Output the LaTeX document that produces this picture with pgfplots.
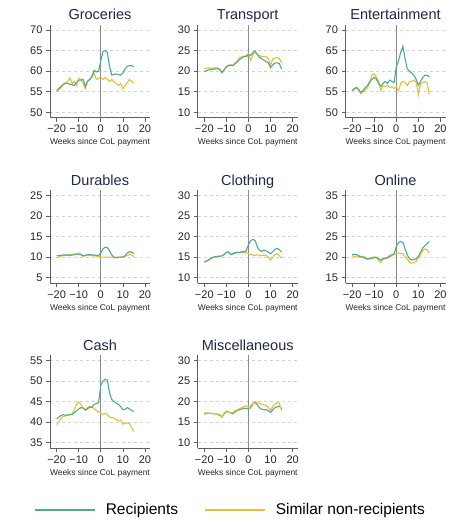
\documentclass[border=0pt]{standalone}
\usepackage{fontspec}
\setmainfont{Liberation Sans}
\usepackage{pgfplots}
\pgfplotsset{compat=1.18}

\definecolor{recip}{RGB}{78,172,140}
\definecolor{nonrec}{RGB}{232,190,58}
\definecolor{titlecol}{RGB}{30,40,75}
\definecolor{spine}{RGB}{95,95,95}

\pgfplotsset{
  panel/.style={
    scale only axis, width=100pt, height=93pt,
    anchor=north west,
    axis lines=left, axis line style={-, draw=spine, line width=0.7pt},
    xmin=-23, xmax=22.3,
    xtick={-20,-10,0,10,20},
    xticklabels={−20,−10,0,10,20},
    tick align=outside, major tick length=4pt,
    tick style={spine, line width=0.6pt},
    ymajorgrids, grid style={dash pattern=on 3pt off 3pt, gray!35, line width=0.6pt},
    extra x ticks={0}, extra x tick labels={},
    extra x tick style={grid=major, major tick length=0pt,
      major grid style={solid, gray!90, line width=0.8pt}},
    ticklabel style={font=\fontsize{11}{13}\selectfont, text=black!85},
    /pgf/number format/assume math mode=true,
    xlabel={Weeks since CoL payment},
    xlabel style={font=\fontsize{8.4}{10}\selectfont, text=black!85,
      at={(axis description cs:0.5,0)}, anchor=base, yshift=-27pt},
    title style={font=\fontsize{14.5}{16}\selectfont, text=titlecol,
      at={(axis description cs:0.5,1)}, anchor=base, yshift=-1pt},
  },
  rec/.style={recip, line width=1.1pt},
  non/.style={nonrec, line width=1.1pt},
}

\begin{document}
\begin{tikzpicture}
\useasboundingbox (0pt,0pt) rectangle (467pt,-529pt);

% ---- row 1 ----
\begin{axis}[panel, at={(50pt,-24.6pt)}, title={Groceries},
  ymin=48.7, ymax=71.3, ytick={50,55,...,70}]
\addplot[non] coordinates {(-20,55.0) (-19,55.5) (-18,56.0) (-17,56.7) (-16,57.2) (-15,57.5) (-14,58.3) (-13,57.0) (-12,57.5) (-11,56.5) (-10,58.2) (-9,58.0) (-8,57.0) (-7,55.7) (-6,57.5) (-5,58.0) (-4,58.5) (-3,59.5) (-2,58.0) (-1,58.3) (0,58.5) (1,58.0) (2,58.5) (3,58.0) (4,57.5) (5,58.0) (6,57.3) (7,57.0) (8,56.5) (9,57.0) (10,55.7) (11,56.5) (12,57.2) (13,58.0) (14,57.5) (15,57.0)};
\addplot[rec] coordinates {(-20,55.3) (-19,55.8) (-18,56.3) (-17,56.8) (-16,57.0) (-15,57.0) (-14,56.8) (-13,56.7) (-12,56.5) (-11,57.2) (-10,57.8) (-9,57.8) (-8,58.0) (-7,56.3) (-6,57.5) (-5,58.0) (-4,58.8) (-3,60.2) (-2,59.8) (-1,60.0) (0,62.5) (1,64.8) (2,65.0) (3,64.5) (4,61.0) (5,59.0) (6,59.2) (7,59.3) (8,59.2) (9,59.0) (10,59.5) (11,60.5) (12,61.2) (13,61.3) (14,61.3) (15,61.1)};
\end{axis}

\begin{axis}[panel, at={(197.7pt,-24.6pt)}, title={Transport},
  ymin=8.7, ymax=31.3, ytick={10,15,...,30}]
\addplot[non] coordinates {(-20,20.5) (-19,20.7) (-18,20.8) (-17,20.7) (-16,20.7) (-15,20.8) (-14,20.8) (-13,20.5) (-12,19.5) (-11,20.5) (-10,21.2) (-9,21.5) (-8,21.3) (-7,21.5) (-6,22.0) (-5,22.5) (-4,23.3) (-3,23.5) (-2,23.6) (-1,23.8) (0,24.3) (1,22.6) (2,24.0) (3,24.5) (4,24.0) (5,23.8) (6,23.5) (7,23.5) (8,23.5) (9,23.0) (10,21.3) (11,23.0) (12,23.2) (13,23.3) (14,23.0) (15,22.0)};
\addplot[rec] coordinates {(-20,19.9) (-19,20.1) (-18,20.3) (-17,20.4) (-16,20.5) (-15,20.5) (-14,20.6) (-13,20.3) (-12,19.7) (-11,20.3) (-10,21.0) (-9,21.3) (-8,21.5) (-7,21.3) (-6,21.8) (-5,22.3) (-4,22.8) (-3,23.2) (-2,23.5) (-1,23.5) (0,24.0) (1,23.8) (2,24.5) (3,24.9) (4,24.0) (5,23.3) (6,23.0) (7,22.7) (8,22.3) (9,22.0) (10,20.8) (11,21.5) (12,22.0) (13,22.0) (14,21.8) (15,20.5)};
\end{axis}

\begin{axis}[panel, at={(345.5pt,-24.6pt)}, title={Entertainment},
  ymin=48.7, ymax=71.3, ytick={50,55,...,70}]
\addplot[non] coordinates {(-20,55.5) (-19,55.5) (-18,56.0) (-17,55.3) (-16,54.5) (-15,55.0) (-14,55.5) (-13,56.0) (-12,57.2) (-11,59.0) (-10,59.3) (-9,58.5) (-8,57.5) (-7,55.3) (-6,56.5) (-5,56.3) (-4,56.5) (-3,56.0) (-2,56.2) (-1,55.8) (0,56.2) (1,55.2) (2,57.0) (3,57.5) (4,57.3) (5,56.5) (6,57.5) (7,57.5) (8,57.8) (9,57.3) (10,54.3) (11,57.0) (12,57.2) (13,57.5) (14,57.0) (15,54.3)};
\addplot[rec] coordinates {(-20,55.2) (-19,55.8) (-18,56.0) (-17,55.5) (-16,54.8) (-15,55.3) (-14,56.0) (-13,56.5) (-12,57.5) (-11,58.0) (-10,58.5) (-9,58.0) (-8,57.0) (-7,56.3) (-6,57.0) (-5,57.5) (-4,57.0) (-3,57.8) (-2,57.5) (-1,57.2) (0,61.0) (1,62.5) (2,64.5) (3,66.0) (4,63.0) (5,60.5) (6,60.0) (7,59.5) (8,59.0) (9,58.0) (10,56.5) (11,57.5) (12,58.5) (13,59.0) (14,59.0) (15,58.5)};
\end{axis}

% ---- row 2 ----
\begin{axis}[panel, at={(50pt,-190pt)}, title={Durables},
  ymin=3.7, ymax=26.3, ytick={5,10,...,25}]
\addplot[non] coordinates {(-20,9.9) (-19,10.0) (-18,10.2) (-17,10.3) (-16,10.4) (-15,10.5) (-14,10.6) (-13,10.6) (-12,10.7) (-11,10.8) (-10,11.0) (-9,10.7) (-8,10.2) (-7,10.3) (-6,10.5) (-5,10.4) (-4,10.3) (-3,10.3) (-2,10.2) (-1,10.1) (0,10.0) (1,10.0) (2,10.0) (3,10.0) (4,10.0) (5,9.9) (6,9.8) (7,9.8) (8,9.9) (9,10.0) (10,10.1) (11,10.2) (12,10.4) (13,10.6) (14,10.5) (15,10.1)};
\addplot[rec] coordinates {(-20,10.3) (-19,10.4) (-18,10.4) (-17,10.5) (-16,10.5) (-15,10.5) (-14,10.4) (-13,10.5) (-12,10.6) (-11,10.7) (-10,10.7) (-9,10.6) (-8,10.3) (-7,10.4) (-6,10.6) (-5,10.6) (-4,10.5) (-3,10.5) (-2,10.4) (-1,10.4) (0,11.0) (1,12.0) (2,12.4) (3,12.3) (4,11.5) (5,10.5) (6,10.0) (7,9.9) (8,10.0) (9,10.0) (10,10.0) (11,10.3) (12,11.0) (13,11.3) (14,11.2) (15,10.9)};
\end{axis}

\begin{axis}[panel, at={(197.7pt,-190pt)}, title={Clothing},
  ymin=8.7, ymax=31.3, ytick={10,15,...,30}]
\addplot[non] coordinates {(-20,13.7) (-19,14.0) (-18,14.2) (-17,14.6) (-16,14.9) (-15,15.0) (-14,15.1) (-13,15.2) (-12,15.3) (-11,15.7) (-10,16.2) (-9,16.3) (-8,15.6) (-7,15.6) (-6,16.0) (-5,16.0) (-4,16.1) (-3,16.2) (-2,16.1) (-1,16.1) (0,15.8) (1,15.6) (2,15.5) (3,15.4) (4,15.6) (5,15.4) (6,15.3) (7,15.5) (8,15.4) (9,15.0) (10,14.3) (11,15.0) (12,15.6) (13,15.9) (14,15.4) (15,14.7)};
\addplot[rec] coordinates {(-20,13.8) (-19,14.1) (-18,14.4) (-17,14.7) (-16,15.0) (-15,15.1) (-14,15.2) (-13,15.2) (-12,15.3) (-11,15.6) (-10,16.1) (-9,16.2) (-8,15.6) (-7,15.9) (-6,16.1) (-5,16.2) (-4,16.1) (-3,16.3) (-2,16.3) (-1,16.6) (0,18.0) (1,19.0) (2,19.3) (3,19.0) (4,17.5) (5,16.6) (6,16.4) (7,16.7) (8,16.5) (9,16.2) (10,15.8) (11,16.3) (12,16.9) (13,17.1) (14,16.8) (15,16.2)};
\end{axis}

\begin{axis}[panel, at={(345.5pt,-190pt)}, title={Online},
  ymin=13.7, ymax=36.3, ytick={15,20,...,35}]
\addplot[non] coordinates {(-20,20.3) (-19,20.2) (-18,20.0) (-17,20.1) (-16,20.2) (-15,20.1) (-14,20.0) (-13,19.5) (-12,19.8) (-11,19.9) (-10,20.1) (-9,19.9) (-8,19.2) (-7,18.7) (-6,19.5) (-5,19.6) (-4,19.7) (-3,20.1) (-2,20.3) (-1,20.6) (0,20.8) (1,21.0) (2,20.9) (3,20.8) (4,20.0) (5,19.5) (6,18.7) (7,18.5) (8,18.7) (9,19.0) (10,19.8) (11,20.5) (12,21.5) (13,22.0) (14,21.8) (15,21.0)};
\addplot[rec] coordinates {(-20,20.6) (-19,20.7) (-18,20.6) (-17,20.3) (-16,20.1) (-15,19.9) (-14,19.7) (-13,19.5) (-12,19.6) (-11,19.7) (-10,19.8) (-9,19.9) (-8,19.6) (-7,19.3) (-6,19.6) (-5,19.7) (-4,19.9) (-3,20.3) (-2,20.6) (-1,20.8) (0,22.5) (1,23.5) (2,23.8) (3,23.5) (4,22.0) (5,20.5) (6,19.6) (7,19.3) (8,19.4) (9,19.6) (10,20.2) (11,21.2) (12,22.2) (13,22.8) (14,23.3) (15,23.8)};
\end{axis}

% ---- row 3 ----
\begin{axis}[panel, at={(50pt,-355pt)}, title={Cash},
  ymin=33.7, ymax=56.3, ytick={35,40,...,55}]
\addplot[non] coordinates {(-20,39.4) (-19,40.0) (-18,40.8) (-17,41.3) (-16,41.5) (-15,41.7) (-14,41.8) (-13,42.0) (-12,43.0) (-11,44.3) (-10,44.9) (-9,44.3) (-8,43.5) (-7,43.0) (-6,43.5) (-5,43.8) (-4,43.6) (-3,43.2) (-2,42.8) (-1,42.5) (0,42.2) (1,41.9) (2,42.1) (3,41.8) (4,41.2) (5,41.1) (6,41.0) (7,40.6) (8,40.3) (9,40.5) (10,39.5) (11,39.7) (12,39.8) (13,39.6) (14,38.6) (15,37.7)};
\addplot[rec] coordinates {(-20,40.8) (-19,41.2) (-18,41.6) (-17,41.8) (-16,41.7) (-15,41.7) (-14,41.8) (-13,41.8) (-12,42.3) (-11,42.7) (-10,43.2) (-9,43.5) (-8,43.4) (-7,42.9) (-6,43.2) (-5,43.6) (-4,43.6) (-3,44.3) (-2,44.5) (-1,44.7) (0,49.0) (1,50.0) (2,50.4) (3,50.2) (4,47.0) (5,45.5) (6,45.0) (7,44.6) (8,44.3) (9,43.8) (10,43.0) (11,43.1) (12,43.5) (13,43.2) (14,42.8) (15,42.6)};
\end{axis}

\begin{axis}[panel, at={(197.7pt,-355pt)}, title={Miscellaneous},
  ymin=8.7, ymax=31.3, ytick={10,15,...,30},
  legend columns=2,
  legend image code/.code={\draw[#1, line width=1.6pt] (0pt,0pt) -- (60pt,0pt);},
  legend style={at={(axis description cs:-1.637,-0.667)}, anchor=west,
    draw=none, fill=none, inner sep=0pt,
    font=\fontsize{15.5}{18}\selectfont,
    nodes={inner sep=0pt, anchor=west},
    /tikz/every odd column/.append style={column sep=10pt},
    /tikz/every even column/.append style={column sep=26pt}}]
\addplot[rec] coordinates {(-20,16.9) (-19,17.1) (-18,17.2) (-17,17.1) (-16,17.0) (-15,17.0) (-14,16.9) (-13,16.6) (-12,16.3) (-11,17.0) (-10,17.5) (-9,17.5) (-8,17.2) (-7,17.0) (-6,17.5) (-5,17.8) (-4,18.0) (-3,18.2) (-2,18.4) (-1,18.3) (0,18.3) (1,18.8) (2,19.5) (3,19.8) (4,19.2) (5,18.5) (6,18.1) (7,18.0) (8,18.0) (9,17.8) (10,17.3) (11,18.0) (12,18.5) (13,18.7) (14,18.9) (15,18.3)};
\addplot[non] coordinates {(-20,17.3) (-19,17.2) (-18,17.2) (-17,17.1) (-16,17.1) (-15,17.0) (-14,16.9) (-13,16.9) (-12,16.1) (-11,17.2) (-10,17.7) (-9,17.6) (-8,17.2) (-7,17.4) (-6,17.8) (-5,18.0) (-4,18.3) (-3,18.5) (-2,18.8) (-1,19.0) (0,18.6) (1,18.3) (2,19.3) (3,20.0) (4,19.8) (5,19.5) (6,19.3) (7,19.2) (8,19.0) (9,18.6) (10,17.8) (11,18.9) (12,19.4) (13,19.7) (14,19.6) (15,17.8)};
\legend{Recipients, Similar non-recipients}
\end{axis}
\end{tikzpicture}
\end{document}
